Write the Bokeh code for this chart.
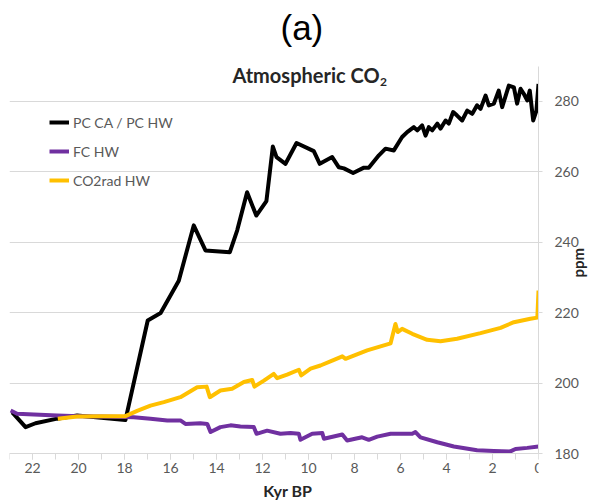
import math
from bokeh.plotting import figure
from bokeh.models import Range1d, FixedTicker, Legend, LegendItem, Label, Title
from bokeh.embed import file_html
from bokeh.resources import INLINE

# ---- data (kyr BP, ppm) ----
black_kyr = [22.88, 22.3, 21.87, 20.93, 20.06, 17.96, 16.99, 16.43, 15.64, 14.99, 14.48, 13.42,
             13.1, 12.67, 12.27, 11.83, 11.55, 11.39, 11.0, 10.52, 9.77, 9.51, 8.97, 8.68, 8.46,
             8.06, 7.59, 7.38, 6.94, 6.65, 6.29, 5.93, 5.71, 5.42, 5.27, 5.06, 4.91, 4.77, 4.62,
             4.4, 4.26, 4.04, 3.9, 3.71, 3.54, 3.32, 3.1, 2.88, 2.67, 2.52, 2.3, 2.16, 1.94, 1.73,
             1.58, 1.29, 1.07, 0.93, 0.78, 0.64, 0.49, 0.38, 0.23, 0.09, 0.0]
black_ppm = [191.7, 187.5, 188.6, 189.9, 190.8, 189.5, 217.8, 219.9, 229.1, 244.8, 237.7, 237.2,
             243.4, 254.2, 247.6, 251.7, 267.2, 264.2, 262.3, 268.2, 265.9, 262.3, 264.2, 261.3,
             261.0, 259.7, 261.2, 261.2, 264.7, 266.6, 266.1, 269.9, 271.3, 272.7, 271.8, 273.2,
             270.3, 272.7, 271.8, 273.7, 272.3, 274.6, 273.7, 277.0, 276.0, 274.6, 277.4, 276.5,
             278.9, 277.9, 281.7, 278.9, 279.4, 283.1, 278.4, 284.5, 284.0, 279.4, 283.6, 282.2,
             280.3, 283.1, 274.6, 277.4, 285.0]

purple_kyr = [22.95, 22.67, 21.94, 20.93, 20.0, 19.0, 18.0, 17.6, 16.87, 16.14, 15.57, 15.35, 14.7,
              14.4, 14.26, 13.83, 13.39, 12.96, 12.38, 12.26, 11.8, 11.22, 10.78, 10.42, 10.35,
              9.84, 9.4, 9.33, 8.53, 8.32, 7.67, 7.38, 7.01, 6.43, 5.49, 5.35, 5.13, 4.4, 3.68,
              2.67, 1.94, 1.22, 1.0, 0.49, 0.0]
purple_ppm = [192.2, 191.3, 191.1, 190.8, 190.6, 190.5, 190.4, 190.3, 189.9, 189.4, 189.4, 188.4,
              188.6, 188.4, 186.1, 187.5, 188.0, 187.7, 187.5, 185.6, 186.5, 185.6, 185.8, 185.6,
              183.9, 185.6, 185.8, 184.2, 185.4, 183.7, 184.6, 183.9, 184.8, 185.6, 185.6, 186.1,
              184.6, 183.2, 182.0, 180.9, 180.7, 180.6, 181.3, 181.6, 182.0]

yellow_kyr = [20.9, 20.06, 19.0, 17.96, 17.45, 16.87, 16.29, 15.57, 14.84, 14.43, 14.29, 13.83,
              13.32, 12.81, 12.45, 12.35, 11.94, 11.51, 11.36, 10.93, 10.42, 10.32, 9.91, 9.48,
              8.97, 8.53, 8.39, 7.45, 6.43, 6.22, 6.12, 5.93, 5.49, 4.84, 4.26, 3.54, 2.52, 1.65,
              1.07, 0.35, 0.05, 0.0]
yellow_ppm = [189.9, 190.5, 190.6, 190.6, 192.1, 193.6, 194.6, 196.0, 198.8, 199.0, 196.0, 197.9,
              198.4, 200.3, 200.9, 199.0, 200.7, 202.6, 201.4, 202.4, 203.8, 202.2, 204.1, 205.0,
              206.4, 207.6, 206.9, 209.3, 211.3, 216.8, 214.5, 215.4, 214.0, 212.3, 211.9, 212.6,
              214.2, 215.7, 217.3, 218.3, 218.6, 226.3]

series_names = ["PC CA / PC HW", "FC HW", "CO2rad HW"]
x_ticks = [0, 2, 4, 6, 8, 10, 12, 14, 16, 18, 20, 22]
x_minor = list(range(0, 24))
y_ticks = [180, 200, 220, 240, 260, 280]

FONT = "Lato"
GREY = "#595959"
DARK = "#262626"

# frame runs from below the title down to the canvas bottom; x axis pinned at 180 ppm
p = figure(width=599, height=503, x_range=Range1d(23, 0), y_range=Range1d(165.8, 294.2),
           y_axis_location="right", output_backend="svg", toolbar_location=None,
           min_border_left=9, min_border_right=61, min_border_top=51, min_border_bottom=0)
p.outline_line_color = None
p.background_fill_color = "white"
p.border_fill_color = "white"

r_black = p.line(black_kyr, black_ppm, line_color="black", line_width=4, line_join="round")
r_purple = p.line(purple_kyr, purple_ppm, line_color="#7030A0", line_width=4, line_join="round")
r_yellow = p.line(yellow_kyr, yellow_ppm, line_color="#FFC000", line_width=4, line_join="round")

# grid
p.xgrid.visible = False
p.ygrid.ticker = FixedTicker(ticks=y_ticks)
p.ygrid.grid_line_color = "#d9d9d9"
p.ygrid.grid_line_width = 1

# x axis
xa = p.xaxis[0]
xa.fixed_location = 180
xa.ticker = FixedTicker(ticks=x_ticks, minor_ticks=x_minor)
xa.axis_line_color = "#d9d9d9"
xa.major_tick_line_color = "#d9d9d9"
xa.minor_tick_line_color = "#d9d9d9"
xa.major_tick_in = 0
xa.major_tick_out = 6
xa.minor_tick_in = 0
xa.minor_tick_out = 6
xa.major_label_text_font = FONT
xa.major_label_text_font_size = "14px"
xa.major_label_text_color = GREY
xa.major_label_standoff = 3

# right y axis
ya = p.yaxis[0]
ya.ticker = FixedTicker(ticks=y_ticks)
ya.bounds = (180, 290)
ya.axis_line_color = "#d9d9d9"
ya.major_tick_line_color = "#d9d9d9"
ya.major_tick_in = 0
ya.major_tick_out = 4
ya.minor_tick_line_color = None
ya.major_label_text_font = FONT
ya.major_label_text_font_size = "14px"
ya.major_label_text_color = GREY
ya.major_label_standoff = 12
ya.axis_label = "ppm"
ya.axis_label_orientation = math.pi / 2
ya.axis_label_text_font = FONT
ya.axis_label_text_font_style = "bold"
ya.axis_label_text_font_size = "15px"
ya.axis_label_text_color = DARK
ya.axis_label_standoff = -4

# panel label above the frame
p.add_layout(Title(text="(a)", align="left", offset=271, standoff=10,
                   text_font="Liberation Sans", text_font_style="normal",
                   text_font_size="35px", text_color="black"), "above")

# legend
legend = Legend(items=[LegendItem(label=series_names[0], renderers=[r_black]),
                       LegendItem(label=series_names[1], renderers=[r_purple]),
                       LegendItem(label=series_names[2], renderers=[r_yellow])],
                location=(40, 313))
legend.border_line_color = None
legend.background_fill_alpha = 0
legend.padding = 0
legend.margin = 0
legend.spacing = 9
legend.glyph_width = 20
legend.glyph_height = 20
legend.label_height = 20
legend.label_standoff = 4
legend.label_text_font = FONT
legend.label_text_font_size = "14px"
legend.label_text_color = GREY
p.add_layout(legend)

# chart title and x axis title
p.add_layout(Label(x=6.91, y=287.4, text="Atmospheric CO", text_align="right",
                   text_baseline="middle", text_font=FONT, text_font_style="bold",
                   text_font_size="20px", text_color=DARK))
p.add_layout(Label(x=6.89, y=285.6, text="2", text_align="left", text_baseline="middle",
                   text_font=FONT, text_font_style="bold", text_font_size="12px",
                   text_color=DARK))
p.add_layout(Label(x=10.9, y=169.5, text="Kyr BP", text_align="center", text_baseline="middle",
                   text_font=FONT, text_font_style="bold", text_font_size="16px",
                   text_color=DARK))

open("out.html", "w").write(file_html(p, INLINE))
